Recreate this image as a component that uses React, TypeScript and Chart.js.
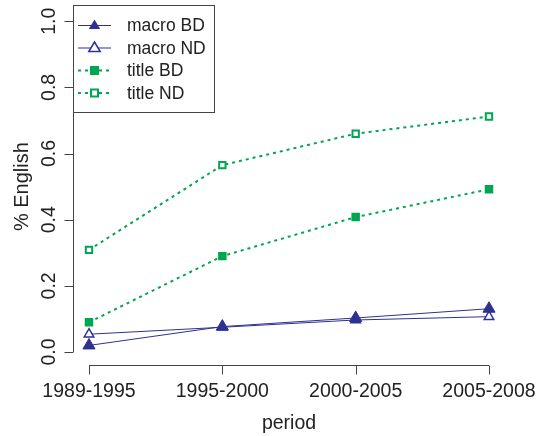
import React, { useEffect, useRef } from 'react';
import { Chart, registerables } from 'chart.js';
Chart.register(...registerables);

const periods = ['1989-1995', '1995-2000', '2000-2005', '2005-2008'];
const macroBD = [0.02, 0.077, 0.103, 0.131];
const macroND = [0.054, 0.075, 0.097, 0.107];
const titleBD = [0.09, 0.29, 0.408, 0.492];
const titleND = [0.309, 0.565, 0.66, 0.712];
const yTicks = [0, 0.2, 0.4, 0.6, 0.8, 1.0];
const yTickLabels = ['0.0', '0.2', '0.4', '0.6', '0.8', '1.0'];
const seriesNames = ['macro BD', 'macro ND', 'title BD', 'title ND'];
const xTitle = 'period';
const yTitle = '% English';

const BLUE = '#2E3192';
const GREEN = '#00A651';
const AXIS = '#444444';
const TEXT = '#222222';
const FONT = '"Liberation Sans", Arial, Helvetica, sans-serif';

const toPoints = (arr: number[]) => arr.map((v, i) => ({ x: i + 1, y: v }));

const rAxesPlugin = {
  id: 'rAxes',
  afterDraw(chart: any) {
    const ctx = chart.ctx as CanvasRenderingContext2D;
    const xs = chart.scales.x;
    const ys = chart.scales.y;
    const area = chart.chartArea;
    ctx.save();
    ctx.strokeStyle = AXIS;
    ctx.fillStyle = TEXT;
    ctx.lineWidth = 1;

    // Y axis
    const yAxisX = Math.round(area.left) + 0.5;
    ctx.beginPath();
    ctx.moveTo(yAxisX, ys.getPixelForValue(yTicks[0]));
    ctx.lineTo(yAxisX, ys.getPixelForValue(yTicks[yTicks.length - 1]));
    yTicks.forEach((t) => {
      const py = Math.round(ys.getPixelForValue(t)) + 0.5;
      ctx.moveTo(yAxisX, py);
      ctx.lineTo(yAxisX - 9, py);
    });
    ctx.stroke();
    ctx.font = `19.5px ${FONT}`;
    ctx.textAlign = 'center';
    ctx.textBaseline = 'alphabetic';
    yTicks.forEach((t, i) => {
      const py = ys.getPixelForValue(t);
      ctx.save();
      ctx.translate(55, py);
      ctx.rotate(-Math.PI / 2);
      ctx.fillText(yTickLabels[i], 0, 0);
      ctx.restore();
    });

    // X axis
    const xAxisY = Math.round(area.bottom) + 0.5;
    ctx.beginPath();
    ctx.moveTo(xs.getPixelForValue(1), xAxisY);
    ctx.lineTo(xs.getPixelForValue(periods.length), xAxisY);
    periods.forEach((_, i) => {
      const px = Math.round(xs.getPixelForValue(i + 1)) + 0.5;
      ctx.moveTo(px, xAxisY);
      ctx.lineTo(px, xAxisY + 9);
    });
    ctx.stroke();
    periods.forEach((p, i) => {
      ctx.fillText(p, xs.getPixelForValue(i + 1), 397);
    });

    // Axis titles
    const midX = (xs.getPixelForValue(1) + xs.getPixelForValue(periods.length)) / 2;
    ctx.fillText(xTitle, midX, 429);
    ctx.save();
    ctx.translate(28, (ys.getPixelForValue(0) + ys.getPixelForValue(1)) / 2);
    ctx.rotate(-Math.PI / 2);
    ctx.font = `20px ${FONT}`;
    ctx.fillText(yTitle, 0, 0);
    ctx.restore();

    // Legend
    const lx = Math.round(area.left) + 0.5;
    const ly = 5.5;
    const lw = 141;
    const lh = 107;
    ctx.strokeStyle = AXIS;
    ctx.lineWidth = 1;
    ctx.strokeRect(lx, ly, lw, lh);
    const rows = [25.5, 48, 70.5, 93];
    ctx.font = `17.5px ${FONT}`;
    ctx.textAlign = 'left';
    ctx.textBaseline = 'middle';
    rows.forEach((ry, i) => {
      const isMacro = i < 2;
      const col = isMacro ? BLUE : GREEN;
      ctx.save();
      ctx.strokeStyle = col;
      ctx.lineWidth = isMacro ? 1 : 2;
      ctx.setLineDash(isMacro ? [] : [3, 4]);
      ctx.beginPath();
      ctx.moveTo(78, ry);
      ctx.lineTo(111, ry);
      ctx.stroke();
      ctx.setLineDash([]);
      const mx = 94.5;
      if (isMacro) {
        const r = 6;
        ctx.beginPath();
        ctx.moveTo(mx, ry - r);
        ctx.lineTo(mx + r * 0.95, ry + r * 0.6);
        ctx.lineTo(mx - r * 0.95, ry + r * 0.6);
        ctx.closePath();
        if (i === 0) {
          ctx.fillStyle = col;
          ctx.fill();
        } else {
          ctx.fillStyle = '#ffffff';
          ctx.fill();
          ctx.lineWidth = 1.5;
          ctx.stroke();
        }
      } else {
        if (i === 2) {
          ctx.fillStyle = col;
          ctx.fillRect(mx - 4.5, ry - 4.5, 9, 9);
        } else {
          ctx.fillStyle = '#ffffff';
          ctx.fillRect(mx - 4, ry - 4, 8, 8);
          ctx.lineWidth = 2;
          ctx.strokeRect(mx - 3.5, ry - 3.5, 7, 7);
        }
      }
      ctx.restore();
      ctx.fillStyle = TEXT;
      ctx.fillText(seriesNames[i], 127, ry + 1);
    });
    ctx.restore();
  },
};

export default function App() {
  const ref = useRef<HTMLCanvasElement | null>(null);
  useEffect(() => {
    document.body.style.margin = '0';
    if (!ref.current) return;
    const chart = new Chart(ref.current, {
      type: 'line',
      data: {
        datasets: [
          {
            label: seriesNames[0],
            data: toPoints(macroBD),
            borderColor: BLUE,
            backgroundColor: BLUE,
            borderWidth: 1,
            pointStyle: 'triangle',
            pointRadius: 7,
            pointBorderWidth: 1,
            pointBackgroundColor: BLUE,
            pointBorderColor: BLUE,
          },
          {
            label: seriesNames[1],
            data: toPoints(macroND),
            borderColor: BLUE,
            backgroundColor: '#ffffff',
            borderWidth: 1,
            pointStyle: 'triangle',
            pointRadius: 5.5,
            pointBorderWidth: 1.5,
            pointBackgroundColor: '#ffffff',
            pointBorderColor: BLUE,
          },
          {
            label: seriesNames[2],
            data: toPoints(titleBD),
            borderColor: GREEN,
            backgroundColor: GREEN,
            borderWidth: 2,
            borderDash: [3, 4],
            pointStyle: 'rect',
            pointRadius: 6,
            pointBorderWidth: 0,
            pointBackgroundColor: GREEN,
            pointBorderColor: GREEN,
          },
          {
            label: seriesNames[3],
            data: toPoints(titleND),
            borderColor: GREEN,
            backgroundColor: '#ffffff',
            borderWidth: 2,
            borderDash: [3, 4],
            pointStyle: 'rect',
            pointRadius: 4.5,
            pointBorderWidth: 2,
            pointBackgroundColor: '#ffffff',
            pointBorderColor: GREEN,
          },
        ],
      },
      options: {
        animation: false,
        responsive: false,
        maintainAspectRatio: false,
        layout: { padding: { left: 73, right: 33, top: 5.7, bottom: 70.7 } },
        plugins: { legend: { display: false }, tooltip: { enabled: false } },
        scales: {
          x: { type: 'linear', min: 0.88, max: 4.12, display: false },
          y: { type: 'linear', min: -0.04, max: 1.04, display: false },
        },
      },
      plugins: [rAxesPlugin],
    });
    return () => chart.destroy();
  }, []);
  return (
    <div style={{ position: 'fixed', left: 0, top: 0, width: 538, height: 436, background: '#fff' }}>
      <canvas ref={ref} width={538} height={436} style={{ width: 538, height: 436 }} />
    </div>
  );
}
